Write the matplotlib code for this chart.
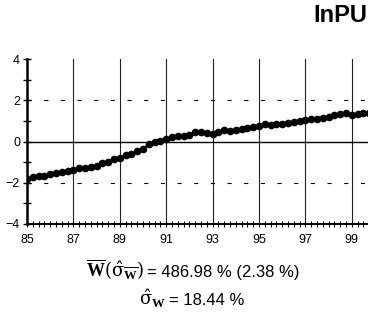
import numpy as np
import matplotlib
matplotlib.use("Agg")
import matplotlib.pyplot as plt
from matplotlib.ticker import MultipleLocator, FixedLocator

plt.rcParams["font.family"] = ["Liberation Sans", "DejaVu Sans"]
plt.rcParams["mathtext.fontset"] = "custom"
plt.rcParams["mathtext.rm"] = "DejaVu Serif"
plt.rcParams["mathtext.it"] = "DejaVu Serif"
plt.rcParams["mathtext.bf"] = "Liberation Serif:bold"
plt.rcParams["lines.scale_dashes"] = False

# quarterly observations, 1985Q1 onwards
start_year = 85.0
values = [
    -1.84, -1.70, -1.66, -1.66, -1.57, -1.52, -1.48, -1.44,
    -1.39, -1.30, -1.30, -1.25, -1.18, -1.05, -0.97, -0.85,
    -0.79, -0.64, -0.59, -0.48, -0.34, -0.11, -0.02, 0.03,
    0.10, 0.20, 0.26, 0.29, 0.30, 0.44, 0.46, 0.43,
    0.38, 0.48, 0.54, 0.52, 0.56, 0.62, 0.66, 0.69,
    0.75, 0.84, 0.82, 0.84, 0.87, 0.92, 0.95, 0.98,
    1.03, 1.07, 1.10, 1.13, 1.18, 1.28, 1.33, 1.36,
    1.30, 1.34, 1.38, 1.39,
]
years = start_year + np.arange(len(values)) * 0.25

title = "InPU"
year_ticks = [85, 87, 89, 91, 93, 95, 97, 99]
mean_sym = r"$\overline{\mathbf{W}}(\hat{\mathrm{σ}}_{\overline{\mathbf{W}}})$"
mean_val = "= 486.98 % (2.38 %)"
sigma_sym = r"$\hat{\mathrm{σ}}_{\mathbf{W}}$"
sigma_val = "= 18.44 %"

W, H = 368, 323
fig = plt.figure(figsize=(W / 100, H / 100), dpi=100)
ax = fig.add_axes([27 / W, (H - 224) / H, 348 / W, 165 / H])

ax.set_xlim(85, 100)
ax.set_ylim(-4, 4)

# vertical grid every two years
for yr in year_ticks[1:]:
    ax.plot([yr, yr], [-4, 4], color="#222222", lw=0.8, zorder=1)

ax.axhline(0, color="black", lw=1.0, zorder=1)
for lvl in (2, -2):
    ln = ax.axhline(lvl, color="black", lw=0.8, zorder=1)
    ln.set_dashes((3, 9))

ax.plot(years, values, "-o", color="black", lw=1.0, markersize=4.5, zorder=3)

for side in ("top", "right"):
    ax.spines[side].set_visible(False)
ax.spines["left"].set_linewidth(1.8)
ax.spines["bottom"].set_linewidth(1.4)

ax.yaxis.set_major_locator(FixedLocator([-4, -2, 0, 2, 4]))
ax.yaxis.set_minor_locator(MultipleLocator(1))
ax.xaxis.set_major_locator(FixedLocator(year_ticks))
ax.xaxis.set_minor_locator(MultipleLocator(0.25))
ax.tick_params(axis="y", which="both", direction="inout", length=6, width=1.0,
               labelsize=9, pad=2)
ax.tick_params(axis="x", which="both", direction="inout", length=5, width=0.8,
               labelsize=9, pad=5)

fig.text(313 / W, 1 - 15 / H, title, fontsize=17, fontweight="bold",
         va="center", ha="left")

# summary statistics under the plot
fig.text(144 / W, 1 - 277 / H, mean_sym, fontsize=13, ha="right", va="baseline")
fig.text(147 / W, 1 - 277 / H, mean_val, fontsize=12, ha="left", va="baseline")
fig.text(166 / W, 1 - 305 / H, sigma_sym, fontsize=13, ha="right", va="baseline")
fig.text(169 / W, 1 - 305 / H, sigma_val, fontsize=12, ha="left", va="baseline")

fig.savefig("out.png", dpi=100)
